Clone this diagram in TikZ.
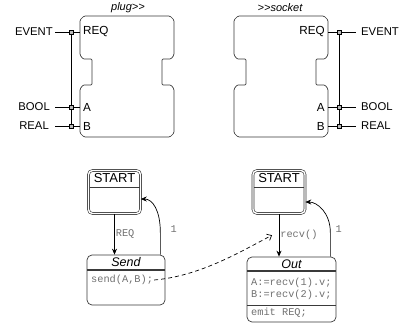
\documentclass[tikz,border=0pt]{standalone}
\usepackage{fontspec}
\setmainfont{Liberation Sans}
\newfontfamily\codefont{Liberation Mono}
\usetikzlibrary{arrows.meta}
\definecolor{edgegray}{HTML}{3A3A3A}
\definecolor{codegray}{HTML}{707070}

\begin{document}
\begin{tikzpicture}[x=1pt,y=-1pt,
    blockline/.style={draw=edgegray, line width=0.7pt, rounded corners=1.2pt},
    pinsq/.style={draw=black, fill=gray!55, minimum size=4pt, inner sep=0pt, line width=0.6pt},
    sig/.style={font=\fontsize{11.3}{13}\selectfont, inner sep=2pt},
    port/.style={font=\fontsize{11.7}{13}\selectfont, inner sep=3pt},
    tagtext/.style={font=\fontsize{11}{12}\selectfont\itshape},
    startbox/.style={draw=edgegray, double=white, double distance=1.4pt, line width=0.6pt,
        rounded corners=4pt, minimum width=52pt, minimum height=43pt},
    statebox/.style={draw=edgegray, line width=0.7pt, rounded corners=5pt},
    headtext/.style={font=\fontsize{13}{14}\selectfont, inner sep=0pt},
    codetext/.style={font=\fontsize{10.3}{12}\codefont, text=codegray, inner sep=1pt},
    trans/.style={draw=black, line width=0.7pt, -{Stealth[length=6pt,width=5pt]}},
    sendlink/.style={draw=black, line width=0.7pt, dash pattern=on 4pt off 3pt,
        -{Straight Barb[length=4pt,width=7pt]}},
]
    \useasboundingbox (0,0) rectangle (405,324);

    % Bloecke plug / socket
    \foreach \dx in {0,154}
        \draw[blockline, shift={(\dx,0)}] (84,16) -- (170,16) -- (174,20) -- (174,55) -- (171,59)
            -- (162,59) -- (162,85) -- (171,85) -- (174,89) -- (174,133) -- (170,137)
            -- (84,137) -- (80,133) -- (80,89) -- (83,85) -- (92,85) -- (92,59) -- (83,59)
            -- (80,55) -- (80,20) -- cycle;
    \node[tagtext] (plugtag) at (128,8) {plug>\kern0pt>};
    \node[tagtext] (socktag) at (280,8) {>\kern0pt>socket};

    % plug: Ports links
    \node[port, anchor=west] (preq) at (80,32) {REQ};
    \node[port, anchor=west] (pa) at (80,107) {A};
    \node[port, anchor=west] (pb) at (80,126) {B};
    \node[sig, anchor=east] (pevent) at (55,32) {EVENT};
    \node[sig, anchor=east] (pbool) at (52,107) {BOOL};
    \node[sig, anchor=east] (preal) at (51,126) {REAL};
    \draw[line width=0.6pt] (71,32) -- (71,126);
    \node[pinsq] (ppin1) at (71,32) {};
    \node[pinsq] (ppin2) at (71,107) {};
    \node[pinsq] (ppin3) at (71,126) {};
    \draw[line width=0.6pt] (pevent) -- (ppin1) -- (preq.west);
    \draw[line width=0.6pt] ([xshift=3pt]pbool.east) -- (ppin2) -- (pa.west);
    \draw[line width=0.6pt] ([xshift=4pt]preal.east) -- (ppin3) -- (pb.west);

    % socket: Ports rechts
    \node[port, anchor=east] (sreq) at (328,32) {REQ};
    \node[port, anchor=east] (sa) at (328,107) {A};
    \node[port, anchor=east] (sb) at (328,126) {B};
    \node[sig, anchor=west] (sevent) at (359,32) {EVENT};
    \node[sig, anchor=west] (sbool) at (359,107) {BOOL};
    \node[sig, anchor=west] (sreal) at (359,126) {REAL};
    \draw[line width=0.6pt] (339,32) -- (339,126);
    \node[pinsq] (spin1) at (339,32) {};
    \node[pinsq] (spin2) at (339,107) {};
    \node[pinsq] (spin3) at (339,126) {};
    \draw[line width=0.6pt] (sreq.east) -- (spin1) -- ([xshift=-3pt]sevent.west);
    \draw[line width=0.6pt] (sa.east) -- (spin2) -- ([xshift=-3pt]sbool.west);
    \draw[line width=0.6pt] (sb.east) -- (spin3) -- ([xshift=-3pt]sreal.west);

    % ECC links
    \node[startbox] (startL) at (114.5,192) {};
    \draw[edgegray, line width=0.6pt] (89.5,187) -- (139.5,187);
    \node[headtext] (startLt) at (114.5,178.5) {START};
    \node[statebox, minimum width=78pt, minimum height=50pt] (send) at (126,280) {};
    \draw[edgegray, line width=1.1pt] (87,270) -- (165,270);
    \node[headtext, font=\fontsize{12.5}{13}\selectfont\itshape] (sendt) at (126,262.5) {Send};
    \node[codetext, anchor=west] (sendact) at (90,280) {send(A,B);};
    \draw[trans] (startL.south) -- (startL.south |- send.north)
        node[midway, right, codetext] (reqlbl) {REQ};
    \draw[trans] ([xshift=-5pt]send.north east) -- ++(0,-22)
        node[codetext, anchor=west, xshift=9pt, yshift=4pt] (oneL) {1}
        .. controls +(0,-22) and +(12,0) .. ([yshift=-7pt]startL.east);

    % ECC rechts
    \node[startbox] (startR) at (279,192) {};
    \draw[edgegray, line width=0.6pt] (254,187) -- (304,187);
    \node[headtext] (startRt) at (279,178.5) {START};
    \node[statebox, minimum width=89pt, minimum height=65pt] (out) at (291.5,289.5) {};
    \draw[edgegray, line width=1.1pt] (247,271) -- (336,271);
    \draw[edgegray, line width=0.7pt] (247,305) -- (336,305);
    \node[headtext, font=\fontsize{12.5}{13}\selectfont\itshape] (outt) at (291.5,264) {Out};
    \node[codetext, anchor=west] (outa) at (250,283) {A:=recv(1).v;};
    \node[codetext, anchor=west] (outb) at (250,295) {B:=recv(2).v;};
    \node[codetext, anchor=west] (outc) at (250,313) {emit REQ;};
    \draw[trans] (startR.south) -- (startR.south |- out.north)
        node[midway, right, codetext] (recvlbl) {recv()};
    \draw[trans] ([xshift=-6pt]out.north east) -- ++(0,-24)
        node[codetext, anchor=west, xshift=4pt, yshift=4pt] (oneR) {1}
        .. controls +(0,-20) and +(12,0) .. ([yshift=-10pt]startR.east);

    % send -> recv
    \draw[sendlink] (sendact.east) .. controls (200,276) and (240,252) .. ([xshift=-7pt]recvlbl.west);
\end{tikzpicture}
\end{document}
